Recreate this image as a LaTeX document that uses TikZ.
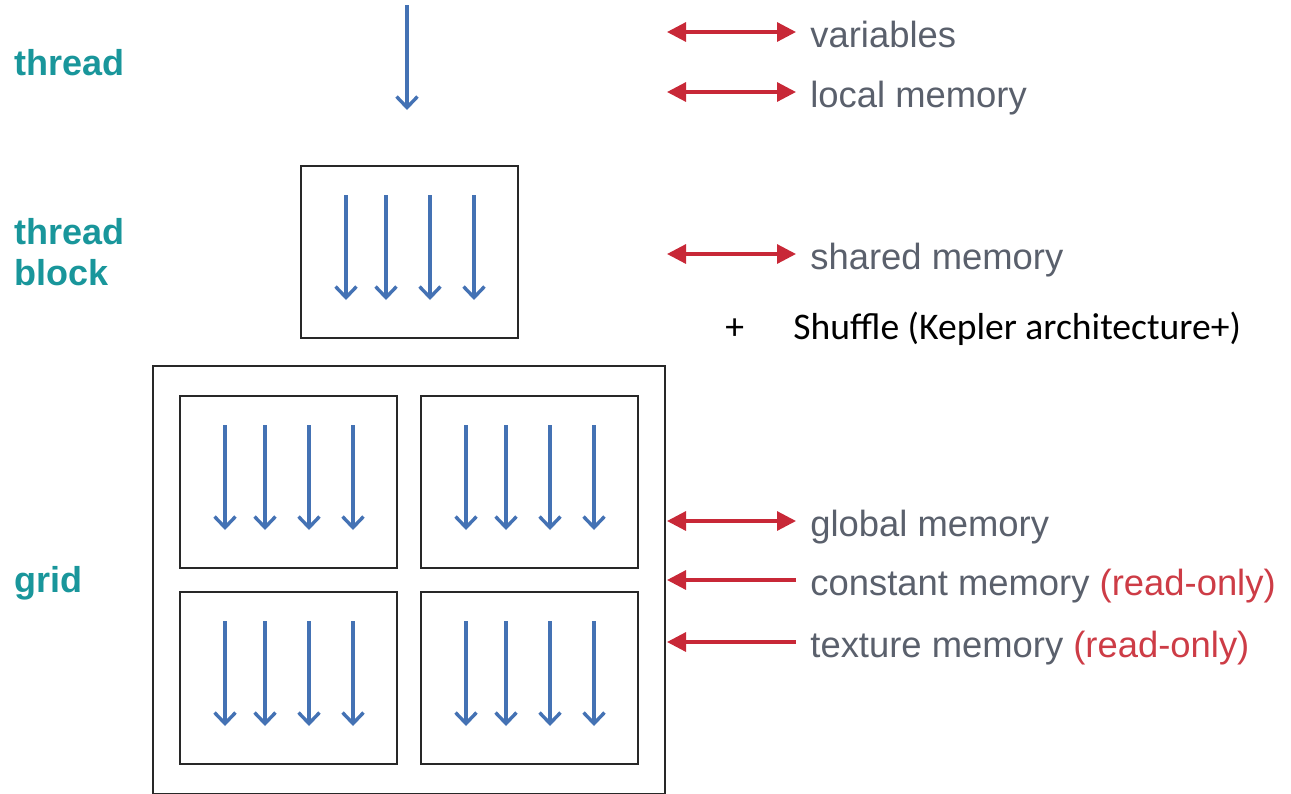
\documentclass[tikz,border=0pt]{standalone}
\usepackage{fontspec}
\setmainfont{Liberation Sans}
\newfontfamily\slidefont{Carlito}
\usetikzlibrary{arrows.meta}
\definecolor{levelteal}{RGB}{25,150,155}
\definecolor{memgray}{RGB}{90,96,108}
\definecolor{memred}{RGB}{200,40,55}
\definecolor{rored}{RGB}{205,60,70}
\definecolor{threadblue}{RGB}{68,114,180}
\definecolor{boxblack}{RGB}{40,40,40}

\begin{document}
\begin{tikzpicture}[x=0.5pt, y=-0.5pt,
    level/.style={anchor=base west, inner sep=0pt, text=levelteal, align=left,
                  font=\fontsize{18}{20.5}\selectfont\bfseries},
    mem/.style={anchor=west, inner sep=0pt, text height=15pt, text depth=0pt,
                text=memgray, font=\fontsize{18.2}{21}\selectfont},
    access/.style={draw=memred, line width=1.6pt, shorten >=7pt,
                   >={Triangle[length=9.5pt,width=9.5pt]}},
    thread/.style={draw=threadblue, line width=1.7pt,
                   -{Straight Barb[length=5.5pt,width=10.5pt]}},
    boxline/.style={draw=boxblack, line width=1pt}]
    \useasboundingbox (0,0) rectangle (1291,793);

    % Levels
    \node[level] (lthread) at (14,75) {thread};
    \node[level] (lblock) at (14,285) {thread\\block};
    \node[level] (lgrid) at (14,592) {grid};

    % Single thread
    \draw[thread] (407,5) -- (407,110);

    % Thread block and grid
    \draw[boxline] (153,366) rectangle (665,794);
    \foreach \bx/\by in {301/166, 180/396, 421/396, 180/592, 421/592} {
        \draw[boxline] (\bx,\by) rectangle ++(217,172);
        \foreach \dx in {45,85,129,173}
            \draw[thread] (\bx+\dx,\by+29) -- ++(0,105);
    }

    % Memory spaces
    \foreach \name/\y/\txt in {vars/32/variables, local/92/local memory,
                               shared/254/shared memory, global/521/global memory} {
        \node[mem] (\name) at (810,\y) {\txt};
        \coordinate (\name L) at (667,\y);
        \draw[access, <->] (\name L) -- (\name);
    }
    \node[mem] (const) at (810,580) {constant memory \textcolor{rored}{(read-only)}};
    \coordinate (const L) at (667,580);
    \draw[access, <-] (const L) -- (const);
    \node[mem] (tex) at (810,642) {texture memory \textcolor{rored}{(read-only)}};
    \coordinate (tex L) at (667,642);
    \draw[access, <-] (tex L) -- (tex);

    % Shuffle note
    \node[anchor=base west, inner sep=0pt, font=\slidefont\fontsize{18.8}{22}\selectfont]
        (plus) at (725,339) {+};
    \node[anchor=base west, inner sep=0pt, font=\slidefont\fontsize{18.8}{22}\selectfont]
        (shuffle) at (793,339) {Shuffle (Kepler architecture+)};
\end{tikzpicture}
\end{document}
